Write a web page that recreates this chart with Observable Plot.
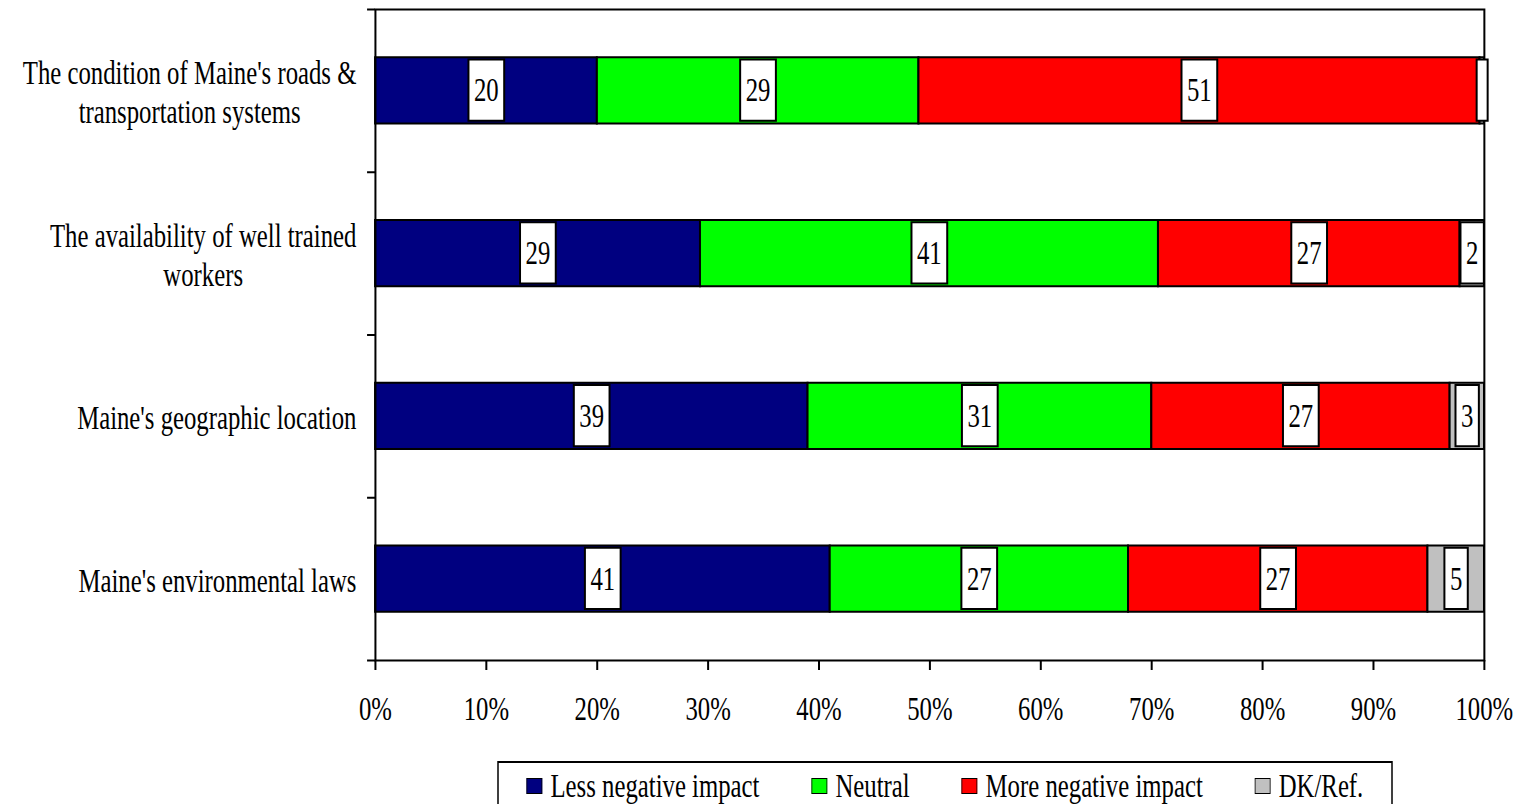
<!DOCTYPE html>
<html>
<head>
<meta charset="utf-8">
<script src="https://cdn.jsdelivr.net/npm/d3@7"></script>
<script src="https://cdn.jsdelivr.net/npm/@observablehq/plot@0.6"></script>
<style>
  html, body { margin: 0; padding: 0; background: #fff; overflow: hidden; }
  #chart svg rect, #chart svg line, #chart svg path { vector-effect: non-scaling-stroke; }
  #legendWrap { position: relative; height: 60px; margin-top: 21px; }
</style>
</head>
<body>
<div id="chart"></div>
<div id="legendWrap"></div>
<script>
// ---- data ----
const categories = [
  "The condition of Maine's roads &\ntransportation systems",
  "The availability of well trained\nworkers",
  "Maine's geographic location",
  "Maine's environmental laws"
];
const seriesNames = ["Less negative impact", "Neutral", "More negative impact", "DK/Ref."];
const seriesColors = ["#000080", "#00ff00", "#ff0000", "#c0c0c0"];
const lessNegative = [20.0, 29.3, 39.0, 41.0];
const neutral      = [29.0, 41.3, 31.0, 26.9];
const moreNegative = [50.6, 27.2, 26.9, 27.0];
const dkRef        = [0.4, 2.2, 3.1, 5.1];
const lessNegativeLabels = ["20", "29", "39", "41"];
const neutralLabels      = ["29", "41", "31", "27"];
const moreNegativeLabels = ["51", "27", "27", "27"];
const dkRefLabels        = ["\u200B", "2", "3", "5"];
const xTicks = [0, 10, 20, 30, 40, 50, 60, 70, 80, 90, 100];

// ---- table ----
const seriesValues = [lessNegative, neutral, moreNegative, dkRef];
const seriesLabels = [lessNegativeLabels, neutralLabels, moreNegativeLabels, dkRefLabels];
const rows = [];
categories.forEach((c, i) => {
  let acc = 0;
  seriesValues.forEach((vals, s) => {
    const v = vals[i];
    rows.push({cat: i, series: seriesNames[s], x1: acc, x2: acc + v, label: seriesLabels[s][i]});
    acc += v;
  });
});

// horizontal condensation of the serif text (as in the original)
const K = 0.75, S = 1 / K;
const W = Math.round(1522 * S), H = 740;
const half = 0.203;
const FONT = "'Liberation Serif', 'Times New Roman', serif";

const plot = Plot.plot({
  width: W, height: H,
  marginLeft: 375 * S, marginRight: 38 * S, marginTop: 9, marginBottom: 80,
  style: {fontFamily: FONT, fontSize: "33px", color: "black", background: "white", overflow: "visible"},
  x: {domain: [0, 100]},
  y: {domain: [0, 4], reverse: true},
  color: {domain: seriesNames, range: seriesColors},
  marks: [
    Plot.rect(rows, {x1: "x1", x2: "x2", y1: d => d.cat + 0.5 - half, y2: d => d.cat + 0.5 + half,
      fill: "series", stroke: "black", strokeWidth: 2}),
    Plot.frame({stroke: "black", strokeWidth: 2}),
    Plot.axisX({ticks: xTicks, tickFormat: d => d + "%", tickSize: 10, tickPadding: 26, strokeWidth: 2, label: null}),
    Plot.axisY({ticks: [0, 1, 2, 3, 4], tickFormat: () => "", tickSize: 8 * S, strokeWidth: 2, label: null}),
    Plot.axisY({ticks: categories.map((c, i) => i + 0.5), tickFormat: d => categories[Math.floor(d)],
      tickSize: 0, tickPadding: 19 * S, lineHeight: 1.2, label: null}),
    Plot.text(rows, {x: d => (d.x1 + d.x2) / 2, y: d => d.cat + 0.5, text: "label", fill: "black"})
  ]
});

const svg = plot;
document.getElementById("chart").append(svg);
svg.setAttribute("viewBox", `0 0 ${W} ${H}`);
svg.setAttribute("preserveAspectRatio", "none");
svg.setAttribute("width", 1522);
svg.setAttribute("height", H);
svg.style.width = "1522px";
svg.style.height = H + "px";
svg.style.maxWidth = "none";

// white label boxes behind segment values
const ys = plot.scale("y");
const barPx = Math.abs(ys.apply(2 * half) - ys.apply(0));
const boxH = barPx - 5;
const NS = "http://www.w3.org/2000/svg";
svg.querySelectorAll('g[aria-label="text"] text').forEach(t => {
  const b = t.getBBox();
  const pad = 5.5 * S;
  const cy = b.height ? b.y + b.height / 2 : 0;
  const r = document.createElementNS(NS, "rect");
  r.setAttribute("x", b.x - pad);
  r.setAttribute("width", b.width + 2 * pad);
  r.setAttribute("y", cy - boxH / 2);
  r.setAttribute("height", boxH);
  r.setAttribute("fill", "white");
  r.setAttribute("stroke", "black");
  r.setAttribute("stroke-width", 2);
  const tr = t.getAttribute("transform");
  if (tr) r.setAttribute("transform", tr);
  t.parentNode.insertBefore(r, t);
});

// center multi-line category labels within their block
svg.querySelectorAll('g[aria-label="y-axis tick label"] text').forEach(t => {
  const spans = Array.from(t.querySelectorAll("tspan"));
  if (spans.length > 1) {
    const ws = spans.map(s => s.getComputedTextLength());
    const m = Math.max(...ws);
    spans.forEach((s, j) => s.setAttribute("dx", -(m - ws[j]) / 2));
  }
});

// ---- legend ----
const wrap = document.getElementById("legendWrap");
const scaleDiv = document.createElement("div");
Object.assign(scaleDiv.style, {position: "absolute", left: "0", top: "0", width: W + "px",
  transform: `scaleX(${K})`, transformOrigin: "0 0"});
const box = document.createElement("div");
Object.assign(box.style, {position: "absolute", left: (497 * S) + "px", top: "0", width: (896 * S) + "px",
  height: "50px", border: "2px solid black", boxSizing: "border-box", display: "flex",
  alignItems: "center", paddingLeft: (28 * S) + "px", background: "white"});
seriesNames.forEach((name, i) => {
  const item = document.createElement("div");
  Object.assign(item.style, {display: "flex", alignItems: "center", marginRight: (i < 3 ? 52 * S : 0) + "px"});
  const sw = document.createElement("div");
  Object.assign(sw.style, {width: (16 * S) + "px", height: "16px", border: "1.5px solid black",
    boxSizing: "border-box", background: seriesColors[i], marginRight: (8 * S) + "px", flex: "none"});
  const lb = document.createElement("span");
  lb.textContent = name;
  Object.assign(lb.style, {fontFamily: FONT, fontSize: "33px", lineHeight: "1", whiteSpace: "nowrap", color: "black"});
  item.append(sw, lb);
  box.append(item);
});
scaleDiv.append(box);
wrap.append(scaleDiv);
</script>
</body>
</html>
